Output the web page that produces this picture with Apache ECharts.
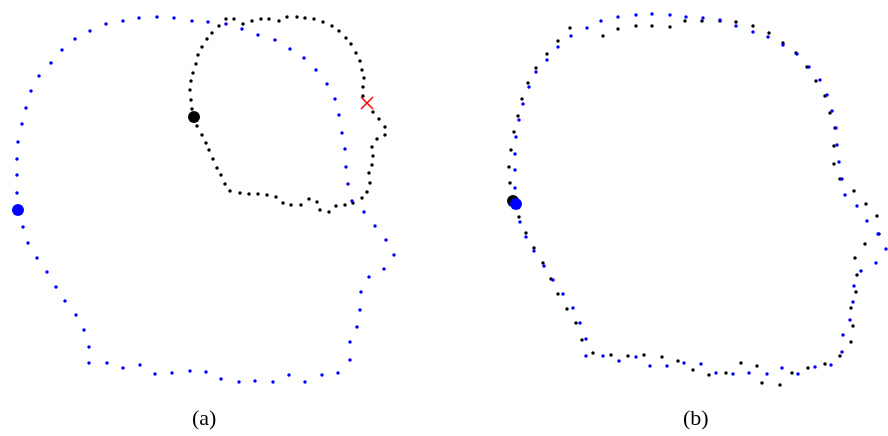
<!DOCTYPE html>
<html>
<head>
<meta charset="utf-8">
<script src="https://cdn.jsdelivr.net/npm/echarts@6/dist/echarts.min.js"></script>
<style>html,body{margin:0;padding:0;background:#fff}#c{width:888px;height:436px}</style>
</head>
<body>
<div id="c"></div>
<script>
// Contour points (image-plane units, y grows downward)
const aBlue = [[18,210],[17,193],[17,175],[17,159],[18,142],[22,124],[26,108],[31,91],[39,76],[51,63],[62,50],[75,39],[90,31],[106,24],[123,21],[139,18],[157,17],[174,18],[192,21],[208,22],[226,24],[242,29],[258,35],[275,40],[290,49],[304,58],[316,70],[327,84],[335,99],[339,115],[342,133],[345,149],[346,167],[348,184],[352,201],[364,212],[375,226],[386,240],[394,255],[384,269],[369,277],[361,292],[360,310],[357,327],[350,342],[350,360],[338,373],[322,375],[305,382],[289,375],[273,382],[255,381],[239,382],[221,379],[206,372],[190,371],[172,373],[155,374],[140,365],[123,368],[107,363],[89,363],[89,347],[84,330],[76,315],[65,301],[56,287],[47,272],[37,258],[28,243],[23,227]];
const aBlack = [[194,117],[197,126],[202,135],[206,143],[209,150],[213,159],[217,168],[221,175],[225,184],[230,191],[240,193],[249,194],[258,194],[267,195],[276,197],[283,203],[291,205],[301,205],[309,199],[317,202],[320,210],[329,212],[336,206],[345,205],[353,203],[362,198],[367,192],[370,183],[369,173],[372,165],[373,156],[372,147],[377,139],[385,135],[385,127],[379,119],[373,112],[363,96],[363,87],[364,78],[362,70],[360,61],[356,53],[351,44],[346,38],[339,31],[332,26],[323,22],[314,19],[305,18],[297,17],[287,17],[279,21],[269,19],[261,19],[252,21],[243,24],[234,19],[226,19],[219,26],[212,33],[207,39],[202,47],[198,55],[196,64],[193,73],[191,81],[190,90],[191,100],[192,109]];
const bBlue = [[516,204],[515,188],[515,170],[515,154],[516,137],[519,120],[523,104],[529,87],[536,72],[547,60],[558,47],[571,36],[587,28],[601,21],[618,17],[636,15],[652,14],[670,15],[686,17],[703,18],[720,20],[736,26],[753,32],[768,37],[783,45],[797,54],[809,67],[820,80],[827,95],[832,111],[836,128],[837,145],[839,162],[842,179],[845,195],[857,206],[867,221],[878,234],[886,249],[876,263],[861,271],[854,286],[853,302],[850,320],[843,335],[842,352],[831,365],[815,367],[798,374],[782,368],[767,374],[749,373],[733,374],[716,373],[701,364],[684,363],[667,366],[650,366],[636,357],[619,361],[603,356],[586,356],[586,339],[580,323],[573,308],[563,294],[553,280],[544,266],[534,251],[526,237],[520,222]];
const bBlack = [[513,201],[510,183],[509,167],[511,150],[514,132],[518,116],[522,99],[528,83],[536,68],[547,54],[558,41],[570,28],[603,36],[618,29],[636,26],[652,26],[670,27],[685,21],[702,21],[720,21],[736,22],[753,26],[769,33],[783,43],[796,53],[807,67],[816,81],[825,96],[830,113],[835,128],[834,146],[834,164],[840,179],[854,191],[866,204],[877,216],[879,234],[865,244],[855,258],[857,275],[856,292],[851,308],[853,326],[851,342],[840,356],[825,364],[808,368],[792,373],[780,385],[762,383],[757,366],[741,363],[726,373],[709,375],[693,370],[678,361],[662,357],[644,355],[628,356],[611,355],[593,353],[582,340],[576,323],[567,309],[558,294],[551,279],[543,263],[534,248],[526,233],[519,217]];
// Marker points
const blackStart = [[194,117],[513,201]];
const blueStart = [[18,210],[516,204]];
const redCross = [[367,103]];
const panelLabels = ['(a)', '(b)'];

const chart = echarts.init(document.getElementById('c'), null, {renderer: 'canvas'});
const dot = (data, color, size, z) => ({
  type: 'scatter', data, symbol: 'circle', symbolSize: size, z,
  itemStyle: {color, opacity: 1}, silent: true, animation: false
});
const labelStyle = {fontFamily: 'Liberation Serif', fontWeight: 'normal', fontSize: 22, color: '#000'};
chart.setOption({
  animation: false,
  backgroundColor: '#ffffff',
  title: [
    {text: panelLabels[0], left: 192, top: 408, padding: 0, textStyle: labelStyle},
    {text: panelLabels[1], left: 683, top: 408, padding: 0, textStyle: labelStyle}
  ],
  grid: {left: 0, right: 0, top: 0, bottom: 0},
  xAxis: {type: 'value', min: 0, max: 888, show: false},
  yAxis: {type: 'value', min: 0, max: 436, inverse: true, show: false},
  series: [
    dot(aBlack, '#000000', 3.5, 2),
    dot(bBlack, '#000000', 3.5, 2),
    dot(aBlue, '#0000ff', 3.5, 3),
    dot(bBlue, '#0000ff', 3.5, 3),
    dot(blackStart, '#000000', 12, 4),
    dot(blueStart, '#0000ff', 12, 5),
    {
      type: 'scatter', data: redCross, z: 6, silent: true,
      symbol: 'path://M0,0L10,10M10,0L0,10', symbolSize: 12,
      itemStyle: {color: 'none', borderColor: '#ff0000', borderWidth: 1.5, opacity: 1}
    }
  ]
});
</script>
</body>
</html>
